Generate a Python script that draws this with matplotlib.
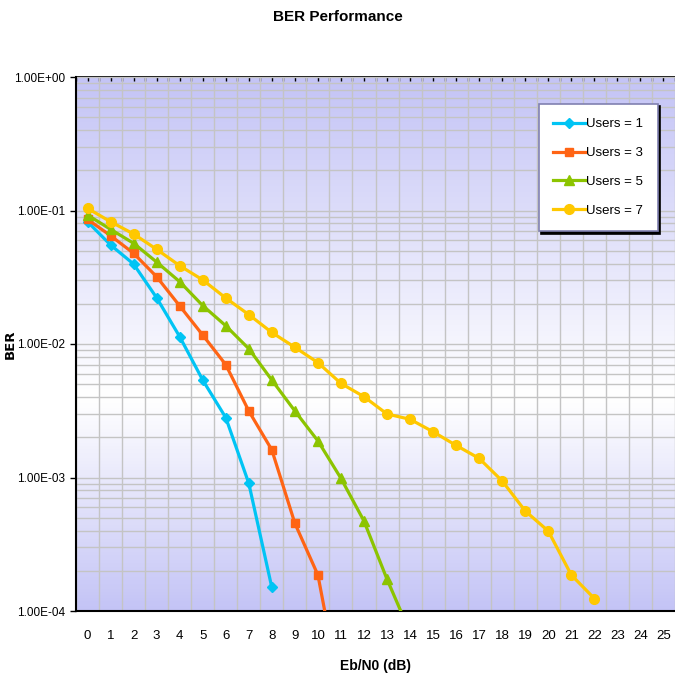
import numpy as np
import matplotlib.pyplot as plt
from matplotlib.colors import LinearSegmentedColormap
from matplotlib.ticker import FixedLocator, LogLocator, NullFormatter

plt.rcParams['font.family'] = ['Liberation Sans Narrow', 'Liberation Sans', 'DejaVu Sans']

# Eb/N0 categories (dB)
snr = list(range(26))

# BER
ber_u1 = [0.0824, 0.0552, 0.0397, 0.0222, 0.01135, 0.00537, 0.00281, 0.000904, 0.000150]
ber_u3 = [0.0859, 0.0648, 0.0478, 0.0319, 0.0193, 0.01167, 0.0070, 0.00315, 0.00161,
          0.000454, 0.000186, 0.000023]
ber_u5 = [0.0925, 0.0723, 0.0568, 0.0411, 0.0293, 0.0194, 0.0137, 0.00922, 0.00537,
          0.00315, 0.00188, 0.000986, 0.000472, 0.000173, 0.000069]
ber_u7 = [0.1038, 0.0824, 0.0667, 0.0512, 0.0386, 0.0302, 0.0221, 0.0166, 0.0122,
          0.00945, 0.00725, 0.00507, 0.00403, 0.00299, 0.00273, 0.00220, 0.00174,
          0.00139, 0.000942, 0.000561, 0.000397, 0.000186, 0.000124]

series = [
    ("Users = 1", ber_u1, "#00c4f4", "D", 5),
    ("Users = 3", ber_u3, "#ff6414", "s", 6),
    ("Users = 5", ber_u5, "#8cc400", "^", 7),
    ("Users = 7", ber_u7, "#ffc800", "o", 7),
]

fig = plt.figure(figsize=(6.75, 6.78), dpi=100)
ax = fig.add_axes([76 / 675, 67 / 678, 599 / 675, 534 / 678])

# lavender -> white -> lavender background
bg = LinearSegmentedColormap.from_list("bg", ["#c4c4f6", "#ffffff", "#c4c4f6"])
grad = np.concatenate([np.linspace(0, 0.5, 60), np.linspace(0.5, 1, 40)])
grad = np.interp(np.linspace(0, 1, 200), np.linspace(0, 1, 100), grad)[:, None]
ax.imshow(grad, cmap=bg, aspect="auto", extent=[0, 1, 0, 1],
          transform=ax.transAxes, zorder=0, vmin=0, vmax=1)

for label, vals, color, marker, ms in series:
    ax.plot(snr[:len(vals)], vals, color=color, lw=2.3, marker=marker,
            ms=ms, label=label, zorder=3, clip_on=True)

ax.set_yscale("log")
ax.set_ylim(1e-4, 1)
ax.set_xlim(-0.5, 25.5)

ax.set_xticks(snr)
ax.set_xticklabels([str(s) for s in snr], fontsize=9.5)
ax.xaxis.set_minor_locator(FixedLocator(np.arange(-0.5, 26, 1)))
ax.tick_params(axis="x", which="major", length=0, pad=14)
ax.tick_params(axis="x", which="minor", length=0)
ax.grid(True, axis="x", which="minor", color="#c4c4c4", lw=1, zorder=1)

ax.set_yticks([1e-4, 1e-3, 1e-2, 1e-1, 1])
ax.set_yticklabels(["1.00E-04", "1.00E-03", "1.00E-02", "1.00E-01", "1.00E+00"], fontsize=8.5)
ax.yaxis.set_minor_locator(LogLocator(base=10, subs=np.arange(2, 10)))
ax.yaxis.set_minor_formatter(NullFormatter())
ax.tick_params(axis="y", which="major", length=4, width=1, direction="out", pad=4)
ax.tick_params(axis="y", which="minor", length=0)
ax.grid(True, axis="y", which="both", color="#c4c4c4", lw=1, zorder=1)
ax.set_axisbelow(True)

# small ticks along the top edge
top = ax.secondary_xaxis("top")
top.set_xticks(np.arange(-0.5, 26, 0.5))
top.set_xticklabels([])
top.tick_params(direction="in", length=3, width=1)
top.spines["top"].set_linewidth(1.2)

for side in ["left", "bottom"]:
    ax.spines[side].set_linewidth(1.5)
ax.spines["top"].set_visible(False)
ax.spines["right"].set_visible(False)

ax.set_xlabel("Eb/N0 (dB)", fontsize=10, fontweight="bold", labelpad=12)
ax.set_ylabel("BER", fontsize=9.5, fontweight="bold", family=["DejaVu Sans"])
ax.yaxis.set_label_coords(-(76 - 17) / 599, 0.5)
fig.suptitle("BER Performance", y=0.985, fontsize=11, fontweight="bold")

leg = ax.legend(loc="upper right", bbox_to_anchor=(0.971, 0.95), fontsize=9.5,
                frameon=True, fancybox=False, shadow={"color": "black", "alpha": 1},
                labelspacing=1.25, borderpad=1.1, handlelength=2.4, handletextpad=0.1,
                borderaxespad=0)
leg.get_frame().set_edgecolor("#8080b0")
leg.get_frame().set_linewidth(1.2)
leg.get_frame().set_alpha(1)

fig.savefig("out.png", dpi=100)
